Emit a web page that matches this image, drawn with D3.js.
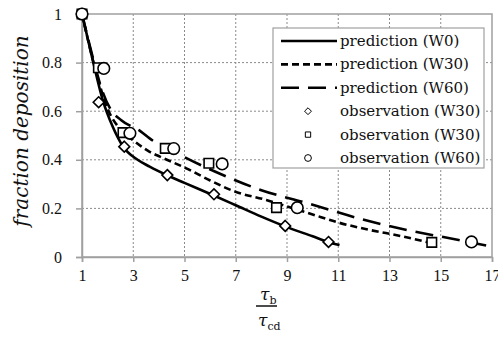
<!DOCTYPE html>
<html>
<head>
<meta charset="utf-8">
<script src="https://cdn.jsdelivr.net/npm/d3@7"></script>
<style>
  body { margin: 0; background: #fff; }
</style>
</head>
<body>
<div id="chart"></div>
<script>
// values
var xTicks = [1, 3, 5, 7, 9, 11, 13, 15, 17];
var yTicks = [0, 0.2, 0.4, 0.6, 0.8, 1];

var predW0X = [1, 1.42, 1.81, 2.2, 2.6, 3.17, 3.64, 4.31, 5, 6.1, 7, 8, 8.9, 10, 10.6, 11.05];
var predW0Y = [1, 0.81, 0.646, 0.536, 0.455, 0.4, 0.372, 0.337, 0.305, 0.255, 0.213, 0.166, 0.127, 0.085, 0.062, 0.049];

var predW30X = [1, 1.5, 2.0, 2.5, 3.0, 3.64, 4.04, 5.07, 6, 7, 8.19, 9, 10, 11, 12.2, 13.5, 14.6];
var predW30Y = [1, 0.78, 0.61, 0.525, 0.48, 0.433, 0.413, 0.365, 0.315, 0.268, 0.235, 0.208, 0.175, 0.142, 0.112, 0.085, 0.058];

var predW60X = [1, 1.45, 1.74, 2.13, 2.52, 3.3, 3.64, 4.74, 5.8, 6.8, 8, 9.75, 11.8, 13.5, 15.7, 17];
var predW60Y = [1, 0.81, 0.7, 0.605, 0.564, 0.516, 0.488, 0.425, 0.37, 0.324, 0.275, 0.223, 0.159, 0.115, 0.07, 0.042];

var obsDiamondX = [1, 1.65, 2.65, 4.33, 6.15, 8.93, 10.62];
var obsDiamondY = [1, 0.637, 0.454, 0.337, 0.258, 0.128, 0.062];

var obsSquareX = [1, 1.64, 2.6, 4.25, 5.95, 8.59, 14.65];
var obsSquareY = [1, 0.779, 0.512, 0.447, 0.386, 0.203, 0.06];

var obsCircleX = [1, 1.85, 2.87, 4.58, 6.47, 9.4, 16.2];
var obsCircleY = [1, 0.776, 0.509, 0.446, 0.383, 0.203, 0.062];

var legendLabels = ["prediction (W0)", "prediction (W30)", "prediction (W60)",
  "observation (W30)", "observation (W30)", "observation (W60)"];

var margin = { top: 14, right: 6, bottom: 81, left: 82 },
  width = 498 - margin.left - margin.right,
  height = 338 - margin.top - margin.bottom;

var svg = d3.select("#chart")
  .append("svg")
  .attr("width", width + margin.left + margin.right)
  .attr("height", height + margin.top + margin.bottom)
  .append("g")
  .attr("transform", "translate(" + margin.left + "," + margin.top + ")");

var xScale = d3.scaleLinear()
  .domain([1, 17])
  .range([0, width]);

var yScale = d3.scaleLinear()
  .domain([0, 1])
  .range([height, 0]);

// dashed grid
svg.append("g")
  .selectAll("line")
  .data(xTicks.slice(1, -1))
  .enter()
  .append("line")
  .attr("x1", function (d) { return xScale(d); })
  .attr("x2", function (d) { return xScale(d); })
  .attr("y1", 0)
  .attr("y2", height)
  .attr("stroke", "#8a8a8a")
  .attr("stroke-width", 1)
  .attr("stroke-dasharray", "2,2");

svg.append("g")
  .selectAll("line")
  .data(yTicks.slice(1, -1))
  .enter()
  .append("line")
  .attr("x1", 0)
  .attr("x2", width)
  .attr("y1", function (d) { return yScale(d); })
  .attr("y2", function (d) { return yScale(d); })
  .attr("stroke", "#8a8a8a")
  .attr("stroke-width", 1)
  .attr("stroke-dasharray", "2,2");

// plot frame
svg.append("rect")
  .attr("x", 0)
  .attr("y", 0)
  .attr("width", width)
  .attr("height", height)
  .attr("fill", "none")
  .attr("stroke", "#a0a0a0")
  .attr("stroke-width", 1.5);

var xAxis = svg.append("g")
  .attr("transform", "translate(0," + height + ")")
  .call(d3.axisBottom(xScale).tickValues(xTicks).tickSize(5).tickPadding(8).tickFormat(d3.format("d")));

var yAxis = svg.append("g")
  .call(d3.axisLeft(yScale).tickValues(yTicks).tickSize(6).tickPadding(14).tickFormat(function (d) { return d === 0 || d === 1 ? d : d.toFixed(1); }));

[xAxis, yAxis].forEach(function (ax) {
  ax.select(".domain").attr("stroke", "#a0a0a0").attr("stroke-width", 1.5);
  ax.selectAll(".tick line").attr("stroke", "#a0a0a0").attr("stroke-width", 1.5);
  ax.selectAll(".tick text")
    .attr("fill", "#111")
    .style("font-family", "'Liberation Serif', serif")
    .style("font-size", "16px");
});

// prediction curves
var line = d3.line()
  .x(function (d) { return xScale(d[0]); })
  .y(function (d) { return yScale(d[1]); })
  .curve(d3.curveMonotoneX);

var curves = [
  { x: predW0X, y: predW0Y, dash: null },
  { x: predW30X, y: predW30Y, dash: "7,4" },
  { x: predW60X, y: predW60Y, dash: "18,9" }
];

svg.append("g")
  .selectAll("path")
  .data(curves)
  .enter()
  .append("path")
  .attr("d", function (c) { return line(d3.zip(c.x, c.y)); })
  .attr("fill", "none")
  .attr("stroke", "#000")
  .attr("stroke-width", 2.6)
  .attr("stroke-dasharray", function (c) { return c.dash; });

// observation markers
var diamond = d3.symbol().type(d3.symbolDiamond2).size(75);
var square = d3.symbol().type(d3.symbolSquare2).size(115);

svg.append("g")
  .selectAll("path")
  .data(d3.zip(obsDiamondX, obsDiamondY))
  .enter()
  .append("path")
  .attr("d", diamond)
  .attr("transform", function (d) { return "translate(" + xScale(d[0]) + "," + yScale(d[1]) + ")"; })
  .attr("fill", "#fff")
  .attr("stroke", "#000")
  .attr("stroke-width", 1.6);

svg.append("g")
  .selectAll("path")
  .data(d3.zip(obsSquareX, obsSquareY))
  .enter()
  .append("path")
  .attr("d", square)
  .attr("transform", function (d) { return "translate(" + xScale(d[0]) + "," + yScale(d[1]) + ")"; })
  .attr("fill", "#fff")
  .attr("stroke", "#000")
  .attr("stroke-width", 1.6);

svg.append("g")
  .selectAll("circle")
  .data(d3.zip(obsCircleX, obsCircleY))
  .enter()
  .append("circle")
  .attr("cx", function (d) { return xScale(d[0]); })
  .attr("cy", function (d) { return yScale(d[1]); })
  .attr("r", 5.8)
  .attr("fill", "#fff")
  .attr("stroke", "#000")
  .attr("stroke-width", 1.6);

// legend
var legend = svg.append("g")
  .attr("transform", "translate(" + (273 - margin.left) + "," + (28 - margin.top) + ")");

legend.append("rect")
  .attr("width", 211)
  .attr("height", 140)
  .attr("fill", "#fff")
  .attr("stroke", "#a0a0a0")
  .attr("stroke-width", 1.2);

var rows = legend.selectAll("g.row")
  .data(legendLabels)
  .enter()
  .append("g")
  .attr("class", "row")
  .attr("transform", function (d, i) { return "translate(0," + (13 + i * 23.4) + ")"; });

rows.append("text")
  .attr("x", 67)
  .attr("y", 5)
  .style("font-family", "'DejaVu Serif', serif")
  .style("font-size", "15px")
  .attr("fill", "#111")
  .text(function (d) { return d; });

rows.filter(function (d, i) { return i < 3; })
  .append("line")
  .attr("x1", 8)
  .attr("x2", 64)
  .attr("y1", 0)
  .attr("y2", 0)
  .attr("stroke", "#000")
  .attr("stroke-width", 2.6)
  .attr("stroke-dasharray", function (d, i) { return curves[i].dash; });

var legendSymbols = [null, null, null,
  d3.symbol().type(d3.symbolDiamond2).size(30),
  d3.symbol().type(d3.symbolSquare2).size(36),
  d3.symbol().type(d3.symbolCircle).size(36)];

rows.filter(function (d, i) { return i >= 3; })
  .append("path")
  .attr("transform", "translate(35,0)")
  .attr("d", function (d, i) { return legendSymbols[i + 3](); })
  .attr("fill", "#fff")
  .attr("stroke", "#000")
  .attr("stroke-width", 1);

// axis titles
svg.append("text")
  .attr("transform", "translate(" + (28 - margin.left) + "," + (131 - margin.top) + ") rotate(-90)")
  .attr("text-anchor", "middle")
  .style("font-family", "'DejaVu Serif', serif")
  .style("font-style", "italic")
  .style("font-size", "20px")
  .attr("fill", "#111")
  .text("fraction deposition");

var xTitle = svg.append("g")
  .attr("transform", "translate(" + (267 - margin.left) + "," + (306 - margin.top) + ")")
  .style("font-family", "'DejaVu Serif', serif")
  .style("font-style", "italic")
  .attr("fill", "#111");

var num = xTitle.append("text")
  .attr("x", -7)
  .attr("y", -6)
  .style("font-size", "17px");
num.append("tspan").text("τ");
num.append("tspan").attr("dy", 4).style("font-size", "11px").style("font-style", "normal").text("b");

xTitle.append("line")
  .attr("x1", -11)
  .attr("x2", 10)
  .attr("y1", 0)
  .attr("y2", 0)
  .attr("stroke", "#111")
  .attr("stroke-width", 1.5);

var den = xTitle.append("text")
  .attr("x", -9)
  .attr("y", 20)
  .style("font-size", "17px");
den.append("tspan").text("τ");
den.append("tspan").attr("dy", 4).style("font-size", "11px").style("font-style", "normal").text("cd");
</script>
</body>
</html>
